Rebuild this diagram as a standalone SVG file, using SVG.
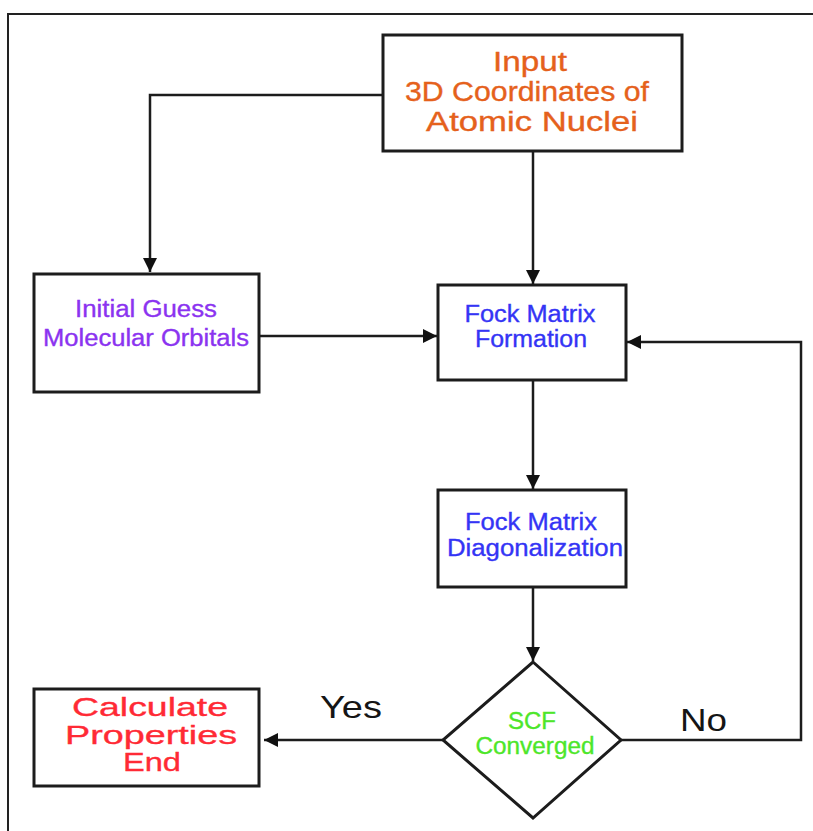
<svg xmlns="http://www.w3.org/2000/svg" width="813" height="831" viewBox="0 0 813 831">
<style>
.box{fill:#fff;stroke:#1c1c1c;stroke-width:3}
.ln{fill:none;stroke:#1c1c1c;stroke-width:2.5}
.t{font-family:"Liberation Sans",Arial,sans-serif;text-anchor:middle;stroke-width:0.35}
.or{fill:#e5611c;stroke:#e5611c;font-size:27px}
.pu{fill:#8b33f0;stroke:#8b33f0;font-size:23px}
.bl{fill:#3434f5;stroke:#3434f5;font-size:23px}
.gr{fill:#4de62a;stroke:#4de62a;font-size:23px}
.rd{fill:#ff2a35;stroke:#ff2a35;font-size:26px}
.lb{fill:#151515;font-size:32px;font-family:"Liberation Sans",Arial,sans-serif}
</style>
<defs>
<marker id="ah" viewBox="0 0 14 14" refX="14" refY="7" markerWidth="14" markerHeight="14" markerUnits="userSpaceOnUse" orient="auto">
<path d="M0,0 L14,7 L0,14 Z" fill="#111"/>
</marker>
</defs>
<rect width="813" height="831" fill="#fff"/>
<path d="M8,831 V14 H813" fill="none" stroke="#222" stroke-width="2"/>

<g id="connectors">
<path class="ln" d="M383,95 H150 V272" marker-end="url(#ah)"/>
<path class="ln" d="M533,151 V284" marker-end="url(#ah)"/>
<path class="ln" d="M259,336 H437" marker-end="url(#ah)"/>
<path class="ln" d="M533,381 V489" marker-end="url(#ah)"/>
<path class="ln" d="M533,587 V661" marker-end="url(#ah)"/>
<path class="ln" d="M443,740 H264" marker-end="url(#ah)"/>
<path class="ln" d="M621,740 H801 V342 H627" marker-end="url(#ah)"/>
</g>

<g id="input">
<rect class="box" x="383" y="35" width="299" height="116"/>
<text class="t or" x="530" y="71" textLength="74" lengthAdjust="spacingAndGlyphs">Input</text>
<text class="t or" x="527" y="101" textLength="244" lengthAdjust="spacingAndGlyphs">3D Coordinates of</text>
<text class="t or" x="532" y="131" textLength="212" lengthAdjust="spacingAndGlyphs">Atomic Nuclei</text>
</g>

<g id="initial-guess">
<rect class="box" x="34" y="274" width="225" height="118"/>
<text class="t pu" x="146" y="317" textLength="142" lengthAdjust="spacingAndGlyphs">Initial Guess</text>
<text class="t pu" x="146" y="346" textLength="206" lengthAdjust="spacingAndGlyphs">Molecular Orbitals</text>
</g>

<g id="fock-formation">
<rect class="box" x="438" y="285" width="188" height="95"/>
<text class="t bl" x="530" y="322" textLength="131" lengthAdjust="spacingAndGlyphs">Fock Matrix</text>
<text class="t bl" x="531" y="347" textLength="112" lengthAdjust="spacingAndGlyphs">Formation</text>
</g>

<g id="fock-diag">
<rect class="box" x="438" y="490" width="188" height="97"/>
<text class="t bl" x="531" y="530" textLength="132" lengthAdjust="spacingAndGlyphs">Fock Matrix</text>
<text class="t bl" x="535" y="556" textLength="176" lengthAdjust="spacingAndGlyphs">Diagonalization</text>
</g>

<g id="scf">
<path class="box" d="M533,662 L621,740 L533,818 L443,740 Z" stroke-width="2.5"/>
<text class="t gr" x="532" y="729" textLength="48" lengthAdjust="spacingAndGlyphs">SCF</text>
<text class="t gr" x="535" y="754" textLength="119" lengthAdjust="spacingAndGlyphs">Converged</text>
</g>

<g id="calculate">
<rect class="box" x="34" y="689" width="225" height="97"/>
<text class="t rd" x="150" y="716" textLength="156" lengthAdjust="spacingAndGlyphs">Calculate</text>
<text class="t rd" x="151" y="744" textLength="172" lengthAdjust="spacingAndGlyphs">Properties</text>
<text class="t rd" x="152" y="771" textLength="58" lengthAdjust="spacingAndGlyphs">End</text>
</g>

<g id="labels">
<text class="lb" x="320" y="718" textLength="62" lengthAdjust="spacingAndGlyphs">Yes</text>
<text class="lb" x="680" y="731" textLength="47" lengthAdjust="spacingAndGlyphs">No</text>
</g>
</svg>
